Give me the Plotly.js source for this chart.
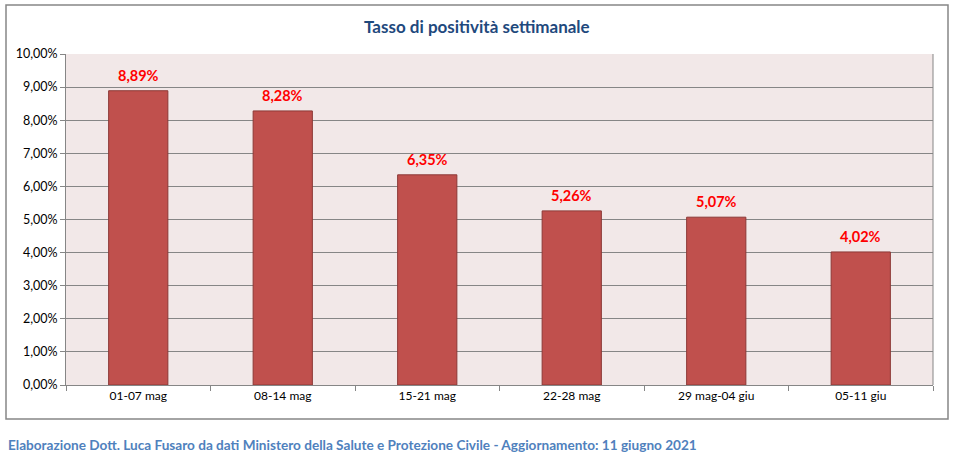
<!DOCTYPE html>
<html><head><meta charset="utf-8">
<script src="https://cdn.plot.ly/plotly-3.0.1.min.js"></script>
<style>html,body{margin:0;padding:0;background:#fff;}#chart{width:960px;height:461px;}</style>
</head><body><div id="chart"></div>
<script>
const categories = ["01-07 mag","08-14 mag","15-21 mag","22-28 mag","29 mag-04 giu","05-11 giu"];
const values = [0.0889, 0.0828, 0.0635, 0.0526, 0.0507, 0.0402];
const yTicks = [0,0.01,0.02,0.03,0.04,0.05,0.06,0.07,0.08,0.09,0.10];

const L=66, R=933, T=54, B=385;
const px = x => (x-L)/(R-L);
const py = y => (B-y)/(B-T);
const fontFam = "Lato, 'Open Sans', sans-serif";
const fmt = v => (v*100).toFixed(2).replace('.', ',') + '%';

const trace = {
  type:'bar', x:categories, y:values,
  marker:{color:'#C0504D', line:{color:'#8C3836', width:1}},
  hoverinfo:'skip'
};
const labelAnns = categories.map((c,i) => ({
  x:c, y:values[i], xref:'x', yref:'y', text:'<b>'+fmt(values[i])+'</b>',
  showarrow:false, yanchor:'bottom', xanchor:'center', yshift:5,
  font:{color:'#FF0000', size:14.5, family:fontFam}
}));
const layout = {
  width:960, height:461,
  margin:{l:L, r:960-R, t:T, b:461-B},
  paper_bgcolor:'#FFFFFF', plot_bgcolor:'#F2E8E8',
  separators:',.',
  bargap:0.59,
  showlegend:false,
  font:{family:fontFam, size:11, color:'#000'},
  xaxis:{type:'category', showgrid:false, showline:true, linecolor:'#868686', linewidth:1,
    ticks:'outside', tickson:'boundaries', ticklen:5, tickcolor:'#868686',
    tickfont:{size:12, family:fontFam, color:'#000'}, fixedrange:true},
  yaxis:{range:[0,0.10], tickvals:yTicks, tickformat:'.2%', showgrid:true, gridcolor:'#868686', gridwidth:1,
    showline:true, linecolor:'#868686', ticks:'outside', ticklen:5, tickcolor:'#868686',
    zeroline:false, tickfont:{size:12.5, family:fontFam, color:'#000'}, fixedrange:true},
  shapes:[
    {type:'rect', xref:'paper', yref:'paper', x0:px(6), x1:px(948), y0:py(419), y1:py(5),
     line:{color:'#868686', width:1.5}, fillcolor:'rgba(0,0,0,0)', layer:'below'},
    {type:'line', xref:'paper', yref:'paper', x0:1, x1:1, y0:0, y1:1, line:{color:'#868686', width:1}}
  ],
  annotations:[
    {text:'<b>Tasso di positività settimanale</b>', xref:'paper', yref:'paper', x:px(477), y:py(27),
     xanchor:'center', yanchor:'middle', showarrow:false, font:{size:17, color:'#1F497D', family:fontFam}},
    {text:'<b>Elaborazione Dott. Luca Fusaro da dati Ministero della Salute e Protezione Civile - Aggiornamento: 11 giugno 2021</b>',
     xref:'paper', yref:'paper', x:px(6), y:py(445), xanchor:'left', yanchor:'middle', showarrow:false,
     font:{size:13.6, color:'#4F81BD', family:fontFam}}
  ].concat(labelAnns)
};
Plotly.newPlot('chart', [trace], layout, {displayModeBar:false, staticPlot:true});
</script></body></html>
